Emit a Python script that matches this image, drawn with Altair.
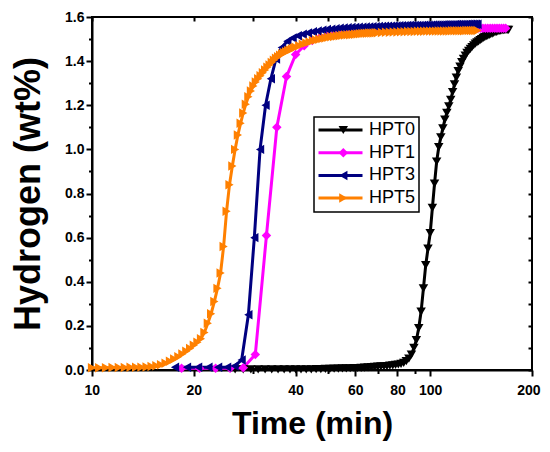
import altair as alt
import pandas as pd

SERIES = ["HPT0", "HPT1", "HPT3", "HPT5"]
COLORS = ["#000000", "#FF00FF", "#000080", "#FF8000"]
SHAPES = ["triangle-down", "diamond", "triangle-left", "triangle-right"]

X_TICKS = [10, 20, 30, 40, 50, 60, 70, 80, 90, 100, 200]
X_LABELS = [10, 20, 40, 60, 80, 100, 200]
Y_TICKS = [0.0, 0.1, 0.2, 0.3, 0.4, 0.5, 0.6, 0.7, 0.8, 0.9, 1.0, 1.1, 1.2, 1.3, 1.4, 1.5, 1.6]

# HPT0 (black)
HPT0_T = [26.5, 28, 29.5, 31, 32.5, 34, 35.5, 37, 38.5, 40, 41.5, 43, 44.5,
          46, 47.5, 49, 50.5, 52, 53.5, 55, 56.5, 58, 59.5,
          61, 62.5, 64, 65.5, 67, 68.5, 70, 71.5, 73, 74.5,
          76, 77.5, 79, 80.5, 82, 83.5, 85, 86.5, 88, 89.5,
          91, 92.5, 94, 95.5, 97, 98.5, 100, 101.5, 103, 104.5,
          106, 107.5, 109, 110.5, 112, 113.5, 115, 116.5, 118, 119.5,
          121, 122.5, 124, 125.5, 127, 128.5, 130, 131.5, 133, 134.5,
          136, 137.5, 139, 140.5, 142, 143.5, 145, 146.5, 148, 149.5,
          151, 152.5, 154, 155.5, 157, 158.5, 160, 161.5, 163, 164.5,
          166, 167.5, 169, 170.5]
HPT0_Y = [0.003, 0.003, 0.003, 0.003, 0.003, 0.003, 0.003, 0.003, 0.003, 0.003, 0.003, 0.003, 0.003,
          0.004, 0.004, 0.005, 0.005, 0.006, 0.006, 0.007, 0.007, 0.008, 0.009,
          0.009, 0.010, 0.011, 0.012, 0.013, 0.014, 0.015, 0.016, 0.017, 0.018,
          0.020, 0.021, 0.023, 0.025, 0.028, 0.032, 0.040, 0.052, 0.070, 0.100,
          0.135, 0.190, 0.265, 0.370, 0.475, 0.550, 0.620, 0.735, 0.845, 0.945,
          1.010, 1.055, 1.095, 1.135, 1.165, 1.195, 1.225, 1.260, 1.295, 1.325,
          1.355, 1.375, 1.395, 1.410, 1.425, 1.437, 1.447, 1.456, 1.464, 1.472,
          1.479, 1.485, 1.490, 1.495, 1.500, 1.505, 1.509, 1.513, 1.516, 1.519,
          1.522, 1.525, 1.528, 1.531, 1.533, 1.535, 1.537, 1.538, 1.539, 1.540,
          1.541, 1.541, 1.542, 1.542]

# HPT1 (magenta)
HPT1_T = [18.4, 20.8, 23.2, 25.6, 28.0, 30.4, 32.8, 35.2, 37.6, 40.0,
          42.4, 44.8, 47.2, 49.6, 52.0, 54.4, 56.8, 59.2, 61.6, 64.0,
          66.4, 68.8, 71.2, 73.6, 76.0, 78.4, 80.8, 83.2, 85.6, 88.0,
          90.4, 92.8, 95.2, 97.6, 100.0, 102.4, 104.8, 107.2, 109.6, 112.0,
          114.4, 116.8, 119.2, 121.6, 124.0, 126.4, 128.8, 131.2, 133.6, 136.0,
          138.4, 140.8, 143.2, 145.6, 148.0, 150.4, 152.8, 155.2, 157.6, 160.0,
          162.4, 164.8, 167.2]
HPT1_Y = [0.008, 0.008, 0.008, 0.008, 0.010, 0.070, 0.610, 1.100, 1.330, 1.430,
          1.470, 1.493, 1.507, 1.517, 1.523, 1.527, 1.530, 1.533, 1.535, 1.537,
          1.538, 1.539, 1.540, 1.541, 1.542, 1.542, 1.543, 1.543, 1.544, 1.544,
          1.545, 1.545, 1.545, 1.546, 1.546, 1.546, 1.546, 1.547, 1.547, 1.547,
          1.547, 1.547, 1.548, 1.548, 1.548, 1.548, 1.548, 1.548, 1.548, 1.548,
          1.549, 1.549, 1.549, 1.549, 1.549, 1.549, 1.549, 1.549, 1.549, 1.549,
          1.549, 1.549, 1.549]

# HPT3 (navy)
HPT3_T = [17.6, 19.1, 20.6, 22.1, 23.6, 25.1, 26.4, 27.7, 29.0, 30.2,
          31.4, 32.6, 33.8, 35.0, 36.4, 37.8, 39.2, 40.6, 42.0, 43.5, 45.0,
          46.5, 48.0, 49.5, 51.0, 52.5, 54.0, 55.5, 57.0, 58.5, 60.0,
          61.5, 63.0, 64.5, 66.0, 67.5, 69.0, 70.5, 72.0, 73.5, 75.0,
          76.5, 78.0, 79.5, 81.0, 82.5, 84.0, 85.5, 87.0, 88.5, 90.0,
          91.5, 93.0, 94.5, 96.0, 97.5, 99.0, 100.5, 102.0, 103.5, 105.0,
          106.5, 108.0, 109.5, 111.0, 112.5, 114.0, 115.5, 117.0, 118.5, 120.0,
          121.5, 123.0, 124.5, 126.0, 127.5, 129.0, 130.5, 132.0, 133.5, 135.0,
          136.5, 138.0]
HPT3_Y = [0.012, 0.012, 0.012, 0.012, 0.012, 0.013, 0.018, 0.045, 0.250, 0.600,
          1.000, 1.200, 1.320, 1.410, 1.462, 1.490, 1.505, 1.515, 1.522, 1.528, 1.533,
          1.537, 1.540, 1.543, 1.545, 1.547, 1.549, 1.550, 1.551, 1.552, 1.553,
          1.554, 1.554, 1.555, 1.555, 1.556, 1.556, 1.557, 1.557, 1.558, 1.558,
          1.558, 1.559, 1.559, 1.560, 1.560, 1.560, 1.561, 1.561, 1.561, 1.562,
          1.562, 1.562, 1.562, 1.563, 1.563, 1.563, 1.563, 1.564, 1.564, 1.564,
          1.564, 1.564, 1.565, 1.565, 1.565, 1.565, 1.565, 1.565, 1.566, 1.566,
          1.566, 1.566, 1.566, 1.566, 1.566, 1.567, 1.567, 1.567, 1.567, 1.567,
          1.567, 1.567]

# HPT5 (orange)
HPT5_T = [10.0, 10.5, 11.0, 11.5, 12.0, 12.5, 13.0, 13.5, 14.0, 14.5,
          15.0, 15.5, 16.0, 16.5, 17.0, 17.5, 18.0, 18.5, 19.0, 19.5,
          20.0, 20.5, 21.0, 21.5, 22.0, 22.5, 23.0, 23.5, 24.0, 24.5,
          25.0, 25.5, 26.0, 26.5, 27.0, 27.5, 28.0, 28.5, 29.0, 29.5,
          30.0, 30.5, 31.0, 31.5, 32.0, 32.5, 33.0, 33.5, 34.0, 34.5,
          35.0, 35.5, 36.0, 36.5, 37.0, 37.5, 38.0, 38.5, 39.0, 39.5, 40.0,
          41, 42, 43, 44, 45, 46, 47, 48, 49, 50,
          51, 52, 53, 54, 55, 56, 57, 58, 59, 60,
          61, 62, 63, 64, 65, 66, 67, 68, 69, 70,
          72, 74, 76, 78, 80, 82, 84, 86, 88, 90,
          92, 94, 96, 98, 100, 102, 104, 106, 108, 110,
          112, 114, 116, 118, 120, 122, 124, 126, 128, 130,
          132, 134, 136, 138]
HPT5_Y = [0.010, 0.010, 0.010, 0.011, 0.011, 0.011, 0.012, 0.012, 0.013, 0.014,
          0.016, 0.019, 0.024, 0.031, 0.040, 0.050, 0.060, 0.072, 0.085, 0.098,
          0.112, 0.126, 0.142, 0.170, 0.212, 0.255, 0.310, 0.370, 0.440, 0.560,
          0.720, 0.840, 0.925, 1.000, 1.065, 1.118, 1.165, 1.205, 1.238, 1.265,
          1.287, 1.305, 1.320, 1.334, 1.347, 1.360, 1.372, 1.383, 1.394, 1.404,
          1.413, 1.420, 1.427, 1.433, 1.438, 1.443, 1.447, 1.451, 1.455, 1.459, 1.463,
          1.470, 1.476, 1.482, 1.487, 1.492, 1.496, 1.499, 1.502, 1.505, 1.508,
          1.510, 1.512, 1.514, 1.515, 1.517, 1.518, 1.519, 1.520, 1.521, 1.522,
          1.523, 1.524, 1.525, 1.526, 1.526, 1.527, 1.528, 1.528, 1.529, 1.529,
          1.530, 1.531, 1.531, 1.532, 1.532, 1.533, 1.533, 1.534, 1.534, 1.534,
          1.535, 1.535, 1.535, 1.536, 1.536, 1.536, 1.536, 1.537, 1.537, 1.537,
          1.537, 1.537, 1.538, 1.538, 1.538, 1.538, 1.538, 1.538, 1.539, 1.539,
          1.539, 1.539, 1.539, 1.539]

rows = []
for name, ts, ys in [("HPT0", HPT0_T, HPT0_Y), ("HPT1", HPT1_T, HPT1_Y),
                     ("HPT3", HPT3_T, HPT3_Y), ("HPT5", HPT5_T, HPT5_Y)]:
    for t, y in zip(ts, ys):
        rows.append({"series": name, "series_m": name, "t": t, "y": y})
df = pd.DataFrame(rows)

FONT = "Liberation Sans"
x_scale = alt.Scale(type="log", domain=[10, 200], nice=False)
y_scale = alt.Scale(domain=[0, 1.6], nice=False)

LABEL_TEST = "indexof([10,20,40,60,80,100,200], datum.value) >= 0"
x_bottom = alt.Axis(
    orient="bottom", values=X_TICKS, title="Time (min)",
    labelExpr=LABEL_TEST + " ? format(datum.value, 'd') : ''",
    tickSize={"condition": {"test": LABEL_TEST, "value": 6}, "value": 3.5},
    labelPadding=7, labelFlush=True, labelFlushOffset=8, labelOverlap=False,
    titlePadding=11, titleFontSize=32,
)
y_left = alt.Axis(
    orient="left", values=Y_TICKS, title="Hydrogen (wt%)",
    labelExpr="round(datum.value*10) % 2 == 0 ? format(datum.value, '.1f') : ''",
    tickSize={"condition": {"test": "round(datum.value*10) % 2 == 0", "value": 6}, "value": 3.5},
    labelPadding=2, labelOverlap=False,
    titlePadding=17, titleFontSize=36,
)
x_top = alt.Axis(orient="top", values=X_TICKS, title=None, labels=False, domain=False,
                 tickSize=4, offset=-4)
y_right = alt.Axis(orient="right", values=Y_TICKS, title=None, labels=False, domain=False,
                   tickSize=4, offset=-4)

# legend with line symbols (from the line layer)
LEG_LINE = alt.Legend(
    orient="none", legendX=222, legendY=100, title=None,
    symbolType="stroke", symbolSize=1936, symbolStrokeWidth=3, clipHeight=20, rowPadding=2.7,
    labelFont=FONT, labelFontSize=18, labelColor="black", labelOffset=5,
    labelLimit=200, padding=3, strokeColor="black", symbolOpacity=1,
)
# legend with marker symbols (from the point layer), laid over the first one
LEG_MARK = alt.Legend(
    orient="none", legendX=222, legendY=100, title=None,
    symbolSize=90, symbolStrokeWidth=0, clipHeight=20, rowPadding=2.7, symbolOffset=17.3,
    labelExpr="''", labelFont=FONT, labelFontSize=18, labelOffset=5,
    padding=3, symbolOpacity=1, zindex=2,
)

lines = alt.Chart(df).mark_line(strokeWidth=3).encode(
    x=alt.X("t:Q", scale=x_scale, axis=x_bottom),
    y=alt.Y("y:Q", scale=y_scale, axis=y_left),
    stroke=alt.Stroke("series:N", scale=alt.Scale(range=COLORS), legend=LEG_LINE),
)

points = alt.Chart(df).mark_point(filled=True, size=90, opacity=1, strokeWidth=0).encode(
    x=alt.X("t:Q", scale=x_scale, axis=x_top),
    y=alt.Y("y:Q", scale=y_scale, axis=y_right),
    fill=alt.Fill("series_m:N", scale=alt.Scale(range=COLORS), legend=LEG_MARK),
    shape=alt.Shape("series_m:N", scale=alt.Scale(range=SHAPES), legend=LEG_MARK),
)

chart = alt.layer(lines, points).resolve_axis(
    x="independent", y="independent"
).properties(
    width=440, height=353,
    autosize=alt.AutoSizeParams(type="none"),
    padding={"left": 84, "top": 9, "right": 10, "bottom": 74},
).configure_view(
    stroke="black", strokeWidth=2
).configure_axis(
    grid=False, domainColor="black", domainWidth=2, tickColor="black", tickWidth=2,
    labelFont=FONT, labelFontSize=14, labelFontWeight="bold", labelColor="black",
    titleFont=FONT, titleFontWeight="bold", titleColor="black",
).configure_legend(
    strokeWidth=1.5
)

chart.save("out.html", embed_options={"renderer": "svg", "actions": False})
